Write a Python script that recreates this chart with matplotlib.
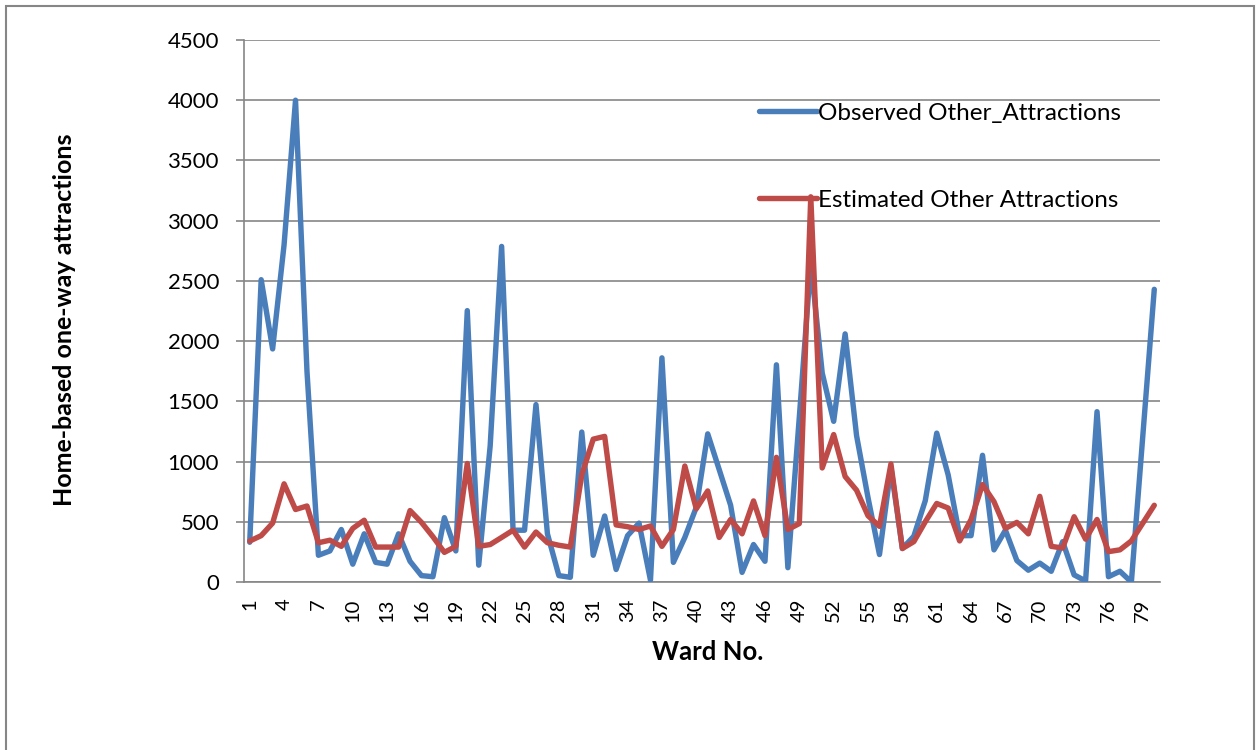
import matplotlib.pyplot as plt
from matplotlib.patches import Rectangle

# ---------------------------------------------------------------------------
# Data
# ---------------------------------------------------------------------------
wards = list(range(1, 81))

observed = [
    330, 2510, 1935, 2800, 4000, 1750, 222, 258, 436, 148,
    400, 163, 148, 400, 172, 53, 44, 534, 258, 2253,
    140, 1130, 2786, 430, 430, 1473, 400, 53, 39, 1245,
    222, 548, 104, 385, 489, 15, 1861, 163, 370, 620,
    1230, 934, 637, 80, 311, 172, 1803, 119, 1370, 2650,
    1735, 1334, 2060, 1215, 700, 228, 950, 278, 380, 675,
    1236, 889, 385, 385, 1052, 267, 430, 178, 98, 157,
    89, 335, 59, 9, 1414, 44, 89, 0, 1215, 2430,
]

estimated = [
    340, 385, 489, 815, 602, 631, 326, 347, 296, 445,
    513, 290, 290, 290, 593, 495, 376, 246, 296, 984,
    296, 311, 370, 430, 290, 415, 326, 305, 290, 889,
    1186, 1209, 474, 459, 436, 465, 296, 436, 963, 608,
    756, 370, 519, 400, 673, 385, 1035, 436, 485, 3198,
    947, 1224, 876, 762, 550, 462, 980, 278, 335, 500,
    652, 614, 341, 519, 809, 667, 445, 495, 400, 711,
    296, 282, 542, 356, 519, 252, 267, 341, 489, 637,
]

y_ticks = list(range(0, 4501, 500))

# ---------------------------------------------------------------------------
# Style
# ---------------------------------------------------------------------------
BLUE = "#4A7EBB"
RED = "#BE4B48"
GRID = "#868686"
FONT = "Lato"

plt.rcParams["font.family"] = [FONT, "DejaVu Sans"]

W, H = 1256, 750
fig = plt.figure(figsize=(W / 100, H / 100), dpi=100)
ax = fig.add_axes([244 / W, 1 - 582 / H, (1160 - 244) / W, (582 - 40) / H])

x = list(range(len(wards)))
ax.plot(x, observed, color=BLUE, lw=3.9, solid_joinstyle="round",
        solid_capstyle="round", label="Observed Other_Attractions", zorder=3)
ax.plot(x, estimated, color=RED, lw=3.9, solid_joinstyle="round",
        solid_capstyle="round", label="Estimated Other Attractions", zorder=4)

ax.set_xlim(-0.5, len(wards) - 0.5)
ax.set_ylim(0, 4500)
ax.set_yticks(y_ticks)
ax.set_yticklabels([str(v) for v in y_ticks], fontsize=16)
ax.set_xticks(x[::3])
ax.set_xticklabels([str(w) for w in wards[::3]], rotation=90, fontsize=14.5)

ax.grid(axis="y", color=GRID, lw=1.2)
ax.set_axisbelow(True)
for side in ["top", "right"]:
    ax.spines[side].set_visible(False)
for side in ["left", "bottom"]:
    ax.spines[side].set_color(GRID)
    ax.spines[side].set_linewidth(1.2)
ax.tick_params(axis="y", direction="out", length=6, width=1.2, color=GRID, pad=12)
ax.tick_params(axis="x", length=0, pad=12)

leg = ax.legend(loc="upper left", bbox_to_anchor=((749 - 244) / 916, (582 - 93) / 542),
                frameon=False, fontsize=17.5, handlelength=2.4, handletextpad=0.05,
                labelspacing=2.72, borderaxespad=0)

fig.text(65 / W, 1 - 320 / H, "Home-based one-way attractions", rotation=90,
         ha="center", va="center", fontsize=18, fontweight="bold")
fig.text(708 / W, 1 - 652 / H, "Ward No.", ha="center", va="center",
         fontsize=18.5, fontweight="bold")

# outer chart frame (bottom edge lies below the visible area)
fig.patches.append(Rectangle((6 / W, -0.1), (1254 - 6) / W, 1.1 - 6 / H,
                             transform=fig.transFigure, fill=False,
                             edgecolor=GRID, lw=1.5))

fig.savefig("out.png", dpi=100)
